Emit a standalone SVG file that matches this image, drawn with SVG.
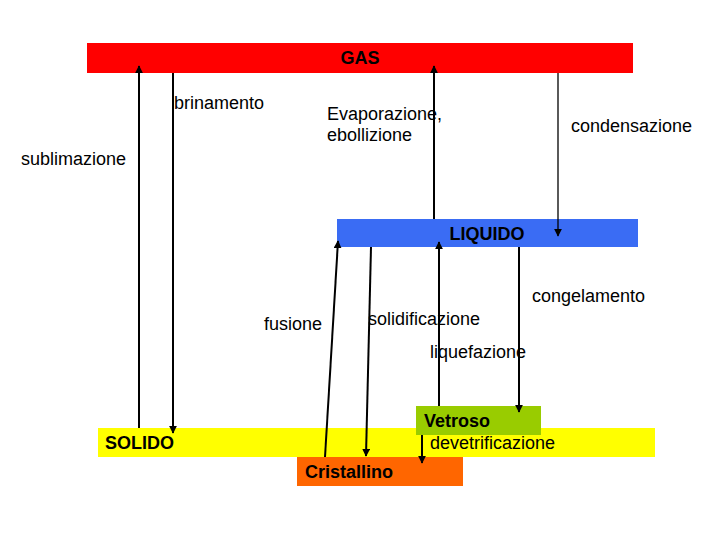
<svg xmlns="http://www.w3.org/2000/svg" width="720" height="540" viewBox="0 0 720 540">
<defs>
<style>
.t{font-family:"Liberation Sans",Arial,sans-serif;font-size:18px;fill:#000}
.b{font-weight:bold}
.c{stroke:#000;stroke-width:2;fill:none}
.thin{stroke-width:1.3}
</style>
<marker id="ah" viewBox="0 0 10 10" refX="9" refY="5" markerWidth="4" markerHeight="4" orient="auto" markerUnits="strokeWidth">
<path d="M0,0 L10,5 L0,10 z" fill="#000"/>
</marker>
<marker id="ah2" viewBox="0 0 10 10" refX="9" refY="5" markerWidth="6" markerHeight="6" orient="auto" markerUnits="strokeWidth">
<path d="M0,0 L10,5 L0,10 z" fill="#000"/>
</marker>
</defs>
<rect width="720" height="540" fill="#fff"/>
<g id="gas">
<rect x="87" y="43" width="546" height="30" fill="#ff0000"/>
<text class="t b" x="360" y="64" text-anchor="middle">GAS</text>
</g>
<g id="liquido">
<rect x="337" y="219" width="301" height="28" fill="#3a6cf4"/>
<text class="t b" x="487" y="240" text-anchor="middle">LIQUIDO</text>
</g>
<g id="solido">
<rect x="98" y="428" width="557" height="29" fill="#ffff00"/>
<text class="t b" x="105" y="449">SOLIDO</text>
</g>
<g id="vetroso">
<rect x="416" y="406" width="125" height="29" fill="#99cc00"/>
<text class="t b" x="424" y="427">Vetroso</text>
</g>
<g id="cristallino">
<rect x="297" y="457" width="166" height="29" fill="#ff6600"/>
<text class="t b" x="305" y="478">Cristallino</text>
</g>
<g id="connectors">
<line class="c" x1="139" y1="428" x2="139" y2="66" marker-end="url(#ah)"/>
<line class="c" x1="173" y1="73" x2="173" y2="433" marker-end="url(#ah)"/>
<line class="c" x1="434" y1="219" x2="434" y2="66" marker-end="url(#ah)"/>
<line class="c thin" x1="558" y1="73" x2="558" y2="236" marker-end="url(#ah2)"/>
<line class="c" x1="325" y1="457" x2="338" y2="241" marker-end="url(#ah)"/>
<line class="c" x1="371" y1="247" x2="366" y2="456" marker-end="url(#ah)"/>
<line class="c" x1="439" y1="406" x2="439" y2="242" marker-end="url(#ah)"/>
<line class="c" x1="519" y1="247" x2="519" y2="412" marker-end="url(#ah)"/>
<line class="c" x1="422" y1="435" x2="422" y2="463" marker-end="url(#ah)"/>
</g>
<g id="labels">
<text class="t" x="174" y="109">brinamento</text>
<text class="t" x="327" y="120">Evaporazione,</text>
<text class="t" x="327" y="141">ebollizione</text>
<text class="t" x="571" y="132">condensazione</text>
<text class="t" x="21" y="165">sublimazione</text>
<text class="t" x="532" y="302">congelamento</text>
<text class="t" x="264" y="330">fusione</text>
<text class="t" x="368" y="325">solidificazione</text>
<text class="t" x="430" y="358">liquefazione</text>
<text class="t" x="430" y="449">devetrificazione</text>
</g>
</svg>
